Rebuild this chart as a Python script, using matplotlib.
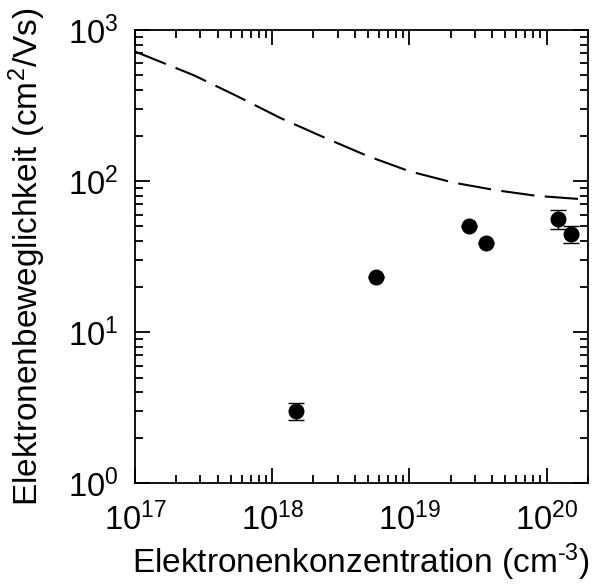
import matplotlib
matplotlib.use('Agg')
import matplotlib.pyplot as plt
from matplotlib.ticker import LogLocator, NullFormatter

plt.rcParams['font.family'] = ['Liberation Sans', 'DejaVu Sans']
plt.rcParams['mathtext.fontset'] = 'custom'
plt.rcParams['mathtext.rm'] = 'Liberation Sans'
plt.rcParams['mathtext.it'] = 'Liberation Sans:italic'

# Messpunkte
konzentration = [1.5e18, 5.7e18, 2.7e19, 3.6e19, 1.22e20, 1.5e20]
beweglichkeit = [3.0, 23.0, 50.0, 39.0, 56.0, 44.5]
fehler = [0.4, 0.0, 0.0, 0.0, 8.0, 5.5]

# theoretische Kurve (gestrichelt)
kurve_n = [1e17, 2.7e17, 5.6e17, 1.15e18, 2.4e18, 4.9e18, 1e19, 2.1e19, 4.3e19, 8.5e19, 1.66e20, 2e20]
kurve_mu = [720, 500, 363, 261, 194, 147, 116, 97.5, 86.8, 79.7, 76.2, 75]

fig = plt.figure(figsize=(5.92, 5.87), dpi=100)
ax = fig.add_axes([0.228, 0.177, 0.765, 0.772])

linie, = ax.plot(kurve_n, kurve_mu, color='black', lw=1.5)
linie.set_dashes([16, 5])

ax.errorbar(konzentration, beweglichkeit, yerr=fehler, fmt='o', color='black',
            markersize=10.5, ecolor='black', elinewidth=1, capsize=6, capthick=1)

ax.set_xscale('log')
ax.set_yscale('log')
ax.set_xlim(1e17, 2e20)
ax.set_ylim(1, 1000)

ax.xaxis.set_major_locator(LogLocator(base=10, numticks=10))
ax.yaxis.set_major_locator(LogLocator(base=10, numticks=10))
ax.xaxis.set_minor_locator(LogLocator(base=10, subs=range(2, 10), numticks=20))
ax.yaxis.set_minor_locator(LogLocator(base=10, subs=range(2, 10), numticks=20))
ax.xaxis.set_minor_formatter(NullFormatter())
ax.yaxis.set_minor_formatter(NullFormatter())

ax.tick_params(which='both', direction='in', top=True, right=True, width=1.3, labelsize=23.5)
ax.tick_params(which='major', length=11)
ax.tick_params(which='minor', length=6)
ax.tick_params(axis='x', which='major', pad=14)
ax.tick_params(axis='y', which='major', pad=12)
for s in ax.spines.values():
    s.set_linewidth(1.3)

ax.set_xlabel('Elektronenkonzentration (cm$^{\\mathdefault{\\text{-}3}}$)', fontsize=24, labelpad=3)
ax.set_ylabel('Elektronenbeweglichkeit (cm$^{\\mathdefault{2}}$/Vs)', fontsize=24, labelpad=14)

fig.savefig('out.png', dpi=100)
